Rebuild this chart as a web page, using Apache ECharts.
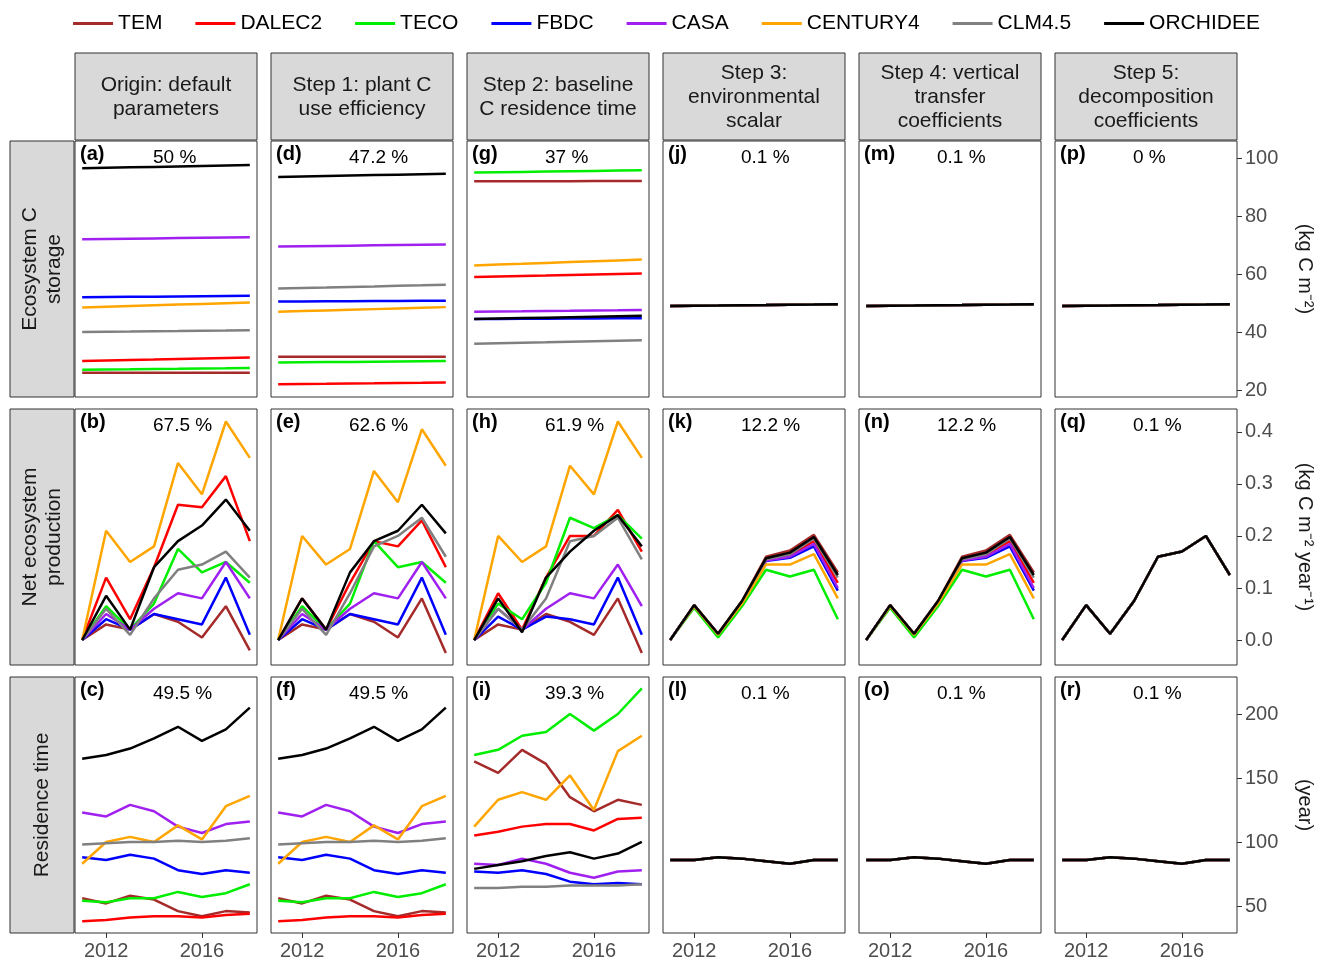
<!DOCTYPE html>
<html><head><meta charset="utf-8">
<script src="https://cdn.jsdelivr.net/npm/echarts@6/dist/echarts.min.js"></script>
<style>body{margin:0}#main{width:1333px;height:963px}</style></head>
<body><div id="main"></div>
<script>
var years = [2011, 2012, 2013, 2014, 2015, 2016, 2017, 2018];
var models = ['TEM', 'DALEC2', 'TECO', 'FBDC', 'CASA', 'CENTURY4', 'CLM4.5', 'ORCHIDEE'];
var colors = ['#a52a2a', '#ff0000', '#00ee00', '#0000ff', '#a020f0', '#ffa500', '#808080', '#000000'];
var colTitles = ['Origin: default\nparameters', 'Step 1: plant C\nuse efficiency', 'Step 2: baseline\nC residence time',
  'Step 3:\nenvironmental\nscalar', 'Step 4: vertical\ntransfer\ncoefficients', 'Step 5:\ndecomposition\ncoefficients'];
var rowTitles = ['Ecosystem C\nstorage', 'Net ecosystem\nproduction', 'Residence time'];
var rowUnits = ['(kg C m\u207B\u00B2)', '(kg C m\u207B\u00B2 year\u207B\u00B9)', '(year)'];
var panelTags = [['(a)', '(d)', '(g)', '(j)', '(m)', '(p)'], ['(b)', '(e)', '(h)', '(k)', '(n)', '(q)'], ['(c)', '(f)', '(i)', '(l)', '(o)', '(r)']];
var panelPct = [['50 %', '47.2 %', '37 %', '0.1 %', '0.1 %', '0 %'], ['67.5 %', '62.6 %', '61.9 %', '12.2 %', '12.2 %', '0.1 %'], ['49.5 %', '49.5 %', '39.3 %', '0.1 %', '0.1 %', '0.1 %']];
var yMin = [17.6, -0.048, 28.9], yMax = [105.9, 0.444, 228.9];
var yTicks = [[20, 40, 60, 80, 100], [0, 0.1, 0.2, 0.3, 0.4], [50, 100, 150, 200]];
var xTicks = [2012, 2016];

function flat(a, b) { var r = []; for (var i = 0; i < 8; i++) r.push(+(a + (b - a) * i / 7).toFixed(2)); return r; }
var conv1 = flat(49, 49.6);
var storage = [
  [flat(26, 26), flat(30, 31.2), flat(27, 27.6), flat(52, 52.5), flat(72, 72.7), flat(48.5, 50.2), flat(40, 40.6), flat(96.5, 97.6)],
  [flat(31.5, 31.5), flat(22, 22.6), flat(29.5, 30), flat(50.5, 50.8), flat(69.5, 70.2), flat(47, 48.6), flat(55, 56.3), flat(93.5, 94.6)],
  [flat(92, 92.1), flat(59, 60.2), flat(95, 95.8), flat(44.5, 44.8), flat(47, 47.6), flat(63, 65), flat(36, 37.2), flat(44.5, 45.6)],
  [conv1, conv1, conv1, conv1, conv1, conv1, conv1, conv1],
  [conv1, conv1, conv1, conv1, conv1, conv1, conv1, conv1],
  [conv1, conv1, conv1, conv1, conv1, conv1, conv1, conv1]
];
var nepConv = [
  [0, .067, .012, .075, .16, .172, .202, .13], [0, .067, .012, .074, .155, .163, .19, .11],
  [0, .062, .005, .065, .135, .122, .135, .04], [0, .066, .011, .073, .152, .158, .18, .095],
  [0, .066, .011, .073, .153, .16, .185, .1], [0, .065, .01, .07, .145, .145, .165, .08],
  [0, .067, .012, .075, .155, .165, .195, .12], [0, .067, .012, .075, .157, .168, .198, .125]
];
var nepOne = [0, .067, .012, .075, .16, .17, .2, .125];
var nep = [
  [[0, .03, .02, .05, .035, .005, .065, -.02], [0, .12, .04, .14, .26, .255, .315, .19], [0, .065, .02, .07, .175, .13, .15, .11],
   [0, .04, .02, .05, .04, .03, .12, .01], [0, .05, .02, .06, .09, .08, .15, .08], [0, .21, .15, .18, .34, .28, .42, .35],
   [0, .06, .01, .08, .135, .145, .17, .12], [0, .085, .02, .14, .19, .22, .27, .21]],
  [[0, .03, .02, .05, .035, .005, .08, -.025], [0, .08, .02, .11, .19, .18, .23, .14], [0, .065, .02, .07, .19, .14, .15, .11],
   [0, .04, .02, .05, .04, .03, .12, .01], [0, .05, .02, .06, .09, .08, .15, .08], [0, .2, .145, .175, .325, .265, .405, .335],
   [0, .06, .01, .09, .18, .2, .235, .16], [0, .08, .02, .13, .19, .21, .26, .205]],
  [[0, .03, .02, .05, .035, .01, .08, -.025], [0, .09, .02, .12, .2, .2, .25, .17], [0, .07, .04, .11, .235, .215, .24, .195],
   [0, .045, .02, .045, .04, .03, .12, .01], [0, .06, .02, .06, .09, .08, .145, .065], [0, .2, .15, .18, .335, .28, .42, .35],
   [0, .06, .02, .08, .19, .2, .235, .155], [0, .08, .015, .12, .17, .21, .24, .18]],
  nepConv, nepConv,
  [nepOne, nepOne, nepOne, nepOne, nepOne, nepOne, nepOne, nepOne]
];
var resOrig = [[56, 52, 58, 55, 46, 42, 46, 45], [38, 39, 41, 42, 42, 41, 43, 44], [54, 53, 56, 56, 61, 57, 60, 67],
  [88, 86, 90, 87, 78, 75, 78, 76], [123, 120, 129, 124, 112, 107, 114, 116], [83, 100, 104, 100, 113, 102, 128, 136],
  [98, 99, 100, 100, 101, 100, 101, 103], [165, 168, 173, 181, 190, 179, 188, 205]];
var resStep2 = [[163, 154, 172, 161, 135, 124, 133, 129], [105, 108, 112, 114, 114, 109, 118, 119], [168, 172, 183, 186, 200, 187, 200, 220],
  [77, 76, 78, 75, 69, 67, 68, 67], [83, 82, 87, 83, 76, 72, 77, 78], [112, 133, 139, 133, 152, 125, 171, 183],
  [64, 64, 65, 65, 66, 66, 66, 67], [79, 82, 85, 89, 92, 87, 91, 100]];
var resOne = [86, 86, 88, 87, 85, 83, 86, 86];
var resConv = [resOne, resOne, resOne, resOne, resOne, resOne, resOne, resOne];
var residence = [resOrig, resOrig, resStep2, resConv, resConv, resConv];
var allData = [storage, nep, residence];

var colLeft = [75, 271, 467, 663, 859, 1055], colW = 182;
var rowTop = [141, 409, 677], rowH = 256;
var font = 'Liberation Sans, Arial, sans-serif';

var chart = echarts.init(document.getElementById('main'));
var grids = [], xAxes = [], yAxes = [], series = [], graphics = [];
for (var r = 0; r < 3; r++) {
  for (var c = 0; c < 6; c++) {
    var gi = grids.length;
    grids.push({ left: colLeft[c], top: rowTop[r], width: colW, height: rowH, show: true, borderColor: '#333', borderWidth: 1 });
    xAxes.push({
      type: 'value', gridIndex: gi, min: 2010.7, max: 2018.3,
      axisLine: { show: false }, splitLine: { show: false },
      axisTick: { show: r === 2, customValues: xTicks, length: 5, lineStyle: { color: '#333' } },
      axisLabel: { show: r === 2, customValues: xTicks, fontSize: 20, color: '#4d4d4d', fontFamily: font, margin: 8,
        formatter: function (v) { return String(v); } }
    });
    yAxes.push({
      type: 'value', gridIndex: gi, position: 'right', min: yMin[r], max: yMax[r],
      axisLine: { show: false }, splitLine: { show: false },
      axisTick: { show: c === 5, customValues: yTicks[r], length: 5, lineStyle: { color: '#333' } },
      axisLabel: { show: c === 5, customValues: yTicks[r], fontSize: 20, color: '#4d4d4d', fontFamily: font, margin: 8,
        formatter: r === 1 ? function (v) { return v.toFixed(1); } : function (v) { return String(v); } },
      name: c === 5 ? rowUnits[r] : '', nameLocation: 'middle', nameGap: 58, nameRotate: -90,
      nameTextStyle: { fontSize: 20, color: '#1a1a1a', fontFamily: font }
    });
    for (var m = 0; m < 8; m++) {
      var vals = allData[r][c][m];
      series.push({
        name: models[m], type: 'line', xAxisIndex: gi, yAxisIndex: gi, symbol: 'none', animation: false,
        lineStyle: { width: 2.5, color: colors[m] }, itemStyle: { color: colors[m] },
        data: years.map(function (y, i) { return [y, vals[i]]; })
      });
    }
    graphics.push({ type: 'text', left: colLeft[c] + 5, top: rowTop[r] + 3,
      style: { text: panelTags[r][c], fontSize: 20, fontWeight: 'bold', fontFamily: font, fill: '#000' } });
    graphics.push({ type: 'text', left: colLeft[c] + 78, top: rowTop[r] + 7,
      style: { text: panelPct[r][c], fontSize: 19, fontFamily: font, fill: '#000' } });
  }
}
for (var c2 = 0; c2 < 6; c2++) {
  graphics.push({ type: 'rect', shape: { x: colLeft[c2], y: 53, width: colW, height: 87 },
    style: { fill: '#d9d9d9', stroke: '#333', lineWidth: 1 } });
  graphics.push({ type: 'text', x: colLeft[c2] + colW / 2, y: 97,
    style: { text: colTitles[c2], fontSize: 21, fontFamily: font, fill: '#1a1a1a', align: 'center', verticalAlign: 'middle', lineHeight: 24 } });
}
for (var r2 = 0; r2 < 3; r2++) {
  graphics.push({ type: 'rect', shape: { x: 10, y: rowTop[r2], width: 64, height: rowH },
    style: { fill: '#d9d9d9', stroke: '#333', lineWidth: 1 } });
  graphics.push({ type: 'text', x: 42, y: rowTop[r2] + rowH / 2, rotation: Math.PI / 2,
    style: { text: rowTitles[r2], fontSize: 21, fontFamily: font, fill: '#1a1a1a', align: 'center', verticalAlign: 'middle', lineHeight: 24 } });
}

chart.setOption({
  animation: false,
  legend: {
    data: models, top: 8, left: 'center', itemWidth: 40, itemHeight: 3, itemGap: 33, icon: 'rect',
    textStyle: { fontSize: 21, fontFamily: font, color: '#000' }
  },
  grid: grids, xAxis: xAxes, yAxis: yAxes, series: series, graphic: graphics
});
window.onresize = chart.resize;
</script></body></html>
